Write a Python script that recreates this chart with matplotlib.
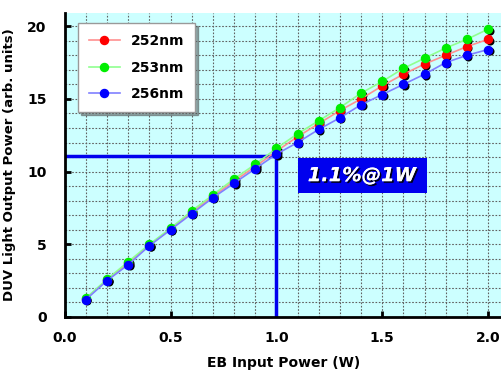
import numpy as np
import matplotlib.pyplot as plt
import matplotlib.transforms as mtransforms
import matplotlib.patheffects as pe
from matplotlib.patches import Rectangle
from matplotlib.ticker import MultipleLocator, FormatStrFormatter

# data
power_w = [0.1, 0.2, 0.3, 0.4, 0.5, 0.6, 0.7, 0.8, 0.9, 1.0,
           1.1, 1.2, 1.3, 1.4, 1.5, 1.6, 1.7, 1.8, 1.9, 2.0]
out_252 = [1.25, 2.55, 3.7, 4.95, 6.05, 7.2, 8.3, 9.35, 10.35, 11.4,
           12.4, 13.3, 14.2, 15.0, 15.9, 16.7, 17.4, 18.0, 18.6, 19.1]
out_253 = [1.3, 2.6, 3.8, 5.0, 6.1, 7.3, 8.4, 9.5, 10.5, 11.6,
           12.6, 13.5, 14.4, 15.4, 16.2, 17.1, 17.8, 18.5, 19.1, 19.8]
out_256 = [1.2, 2.5, 3.6, 4.9, 6.0, 7.1, 8.2, 9.2, 10.2, 11.2,
           12.0, 12.9, 13.7, 14.6, 15.3, 16.0, 16.7, 17.5, 18.0, 18.4]
labels = ['252nm', '253nm', '256nm']
colors = ['#ff0000', '#00ee00', '#0000ff']
line_colors = ['#ff9090', '#90ff90', '#8080ff']
mark_x, mark_y = 1.0, 11.1
note = '1.1%@1W'

fig = plt.figure(figsize=(5.02, 3.76), dpi=100)
ax = fig.add_axes([0.129, 0.157, 0.871, 0.808])
ax.set_facecolor('#ccffff')

# reference lines at 1 W
ax.plot([0, mark_x], [mark_y, mark_y], color='#0000ee', lw=2.5, zorder=2)
ax.plot([mark_x, mark_x], [0, mark_y], color='#0000ee', lw=2.5, zorder=2)

shadow = mtransforms.offset_copy(ax.transData, fig=fig, x=1.5, y=-1.5, units='dots')
for ys, c, lc, lab in zip([out_252, out_253, out_256], colors, line_colors, labels):
    ax.plot(power_w, ys, 'o', color='black', ms=5.8, mec='none', transform=shadow, zorder=3)
    ax.plot(power_w, ys, '-', color=lc, lw=1.2, marker='o', ms=5.8,
            mfc=c, mec=c, label=lab, zorder=4)

# annotation box
ax.add_patch(Rectangle((1.10, 8.5), 0.61, 2.45, facecolor='#0000ee',
                       edgecolor='none', zorder=5))
ax.text(1.405, 9.72, note, color='white', fontsize=14, fontweight='bold',
        fontstyle='italic', ha='center', va='center', zorder=6,
        path_effects=[pe.withSimplePatchShadow(offset=(1.2, -1.2), shadow_rgbFace='black', alpha=0.9),
                      pe.Normal()])

ax.set_xlim(0, 2.066)
ax.set_ylim(0, 20.9)
ax.xaxis.set_major_locator(MultipleLocator(0.5))
ax.yaxis.set_major_locator(MultipleLocator(5))
ax.xaxis.set_minor_locator(MultipleLocator(0.1))
ax.yaxis.set_minor_locator(MultipleLocator(1))
ax.xaxis.set_major_formatter(FormatStrFormatter('%.1f'))
ax.grid(True, which='both', color='#606060', ls=(0, (1.5, 1.5)), lw=0.8, zorder=0)
ax.set_axisbelow(True)

for s in ['top', 'right']:
    ax.spines[s].set_visible(False)
for s in ['left', 'bottom']:
    ax.spines[s].set_linewidth(2)

ax.tick_params(which='major', direction='in', length=4, width=2)
ax.tick_params(which='minor', length=0)
ax.tick_params(axis='y', pad=13)
ax.tick_params(axis='x', pad=10)
for t in ax.get_xticklabels() + ax.get_yticklabels():
    t.set_fontweight('bold')
    t.set_fontsize(10)

ax.set_xlabel('EB Input Power (W)', fontsize=10, fontweight='bold', labelpad=8)
ax.set_ylabel('DUV Light Output Power (arb. units)', fontsize=9.5, fontweight='bold', labelpad=8)

leg = ax.legend(loc='upper left', bbox_to_anchor=(0.03, 0.967), borderaxespad=0,
                prop={'weight': 'bold', 'size': 10}, fancybox=False, shadow=True,
                edgecolor='#999999', labelspacing=0.9, handlelength=2.2,
                borderpad=0.8, framealpha=1)
leg.set_zorder(7)

fig.savefig('out.png', dpi=100)
